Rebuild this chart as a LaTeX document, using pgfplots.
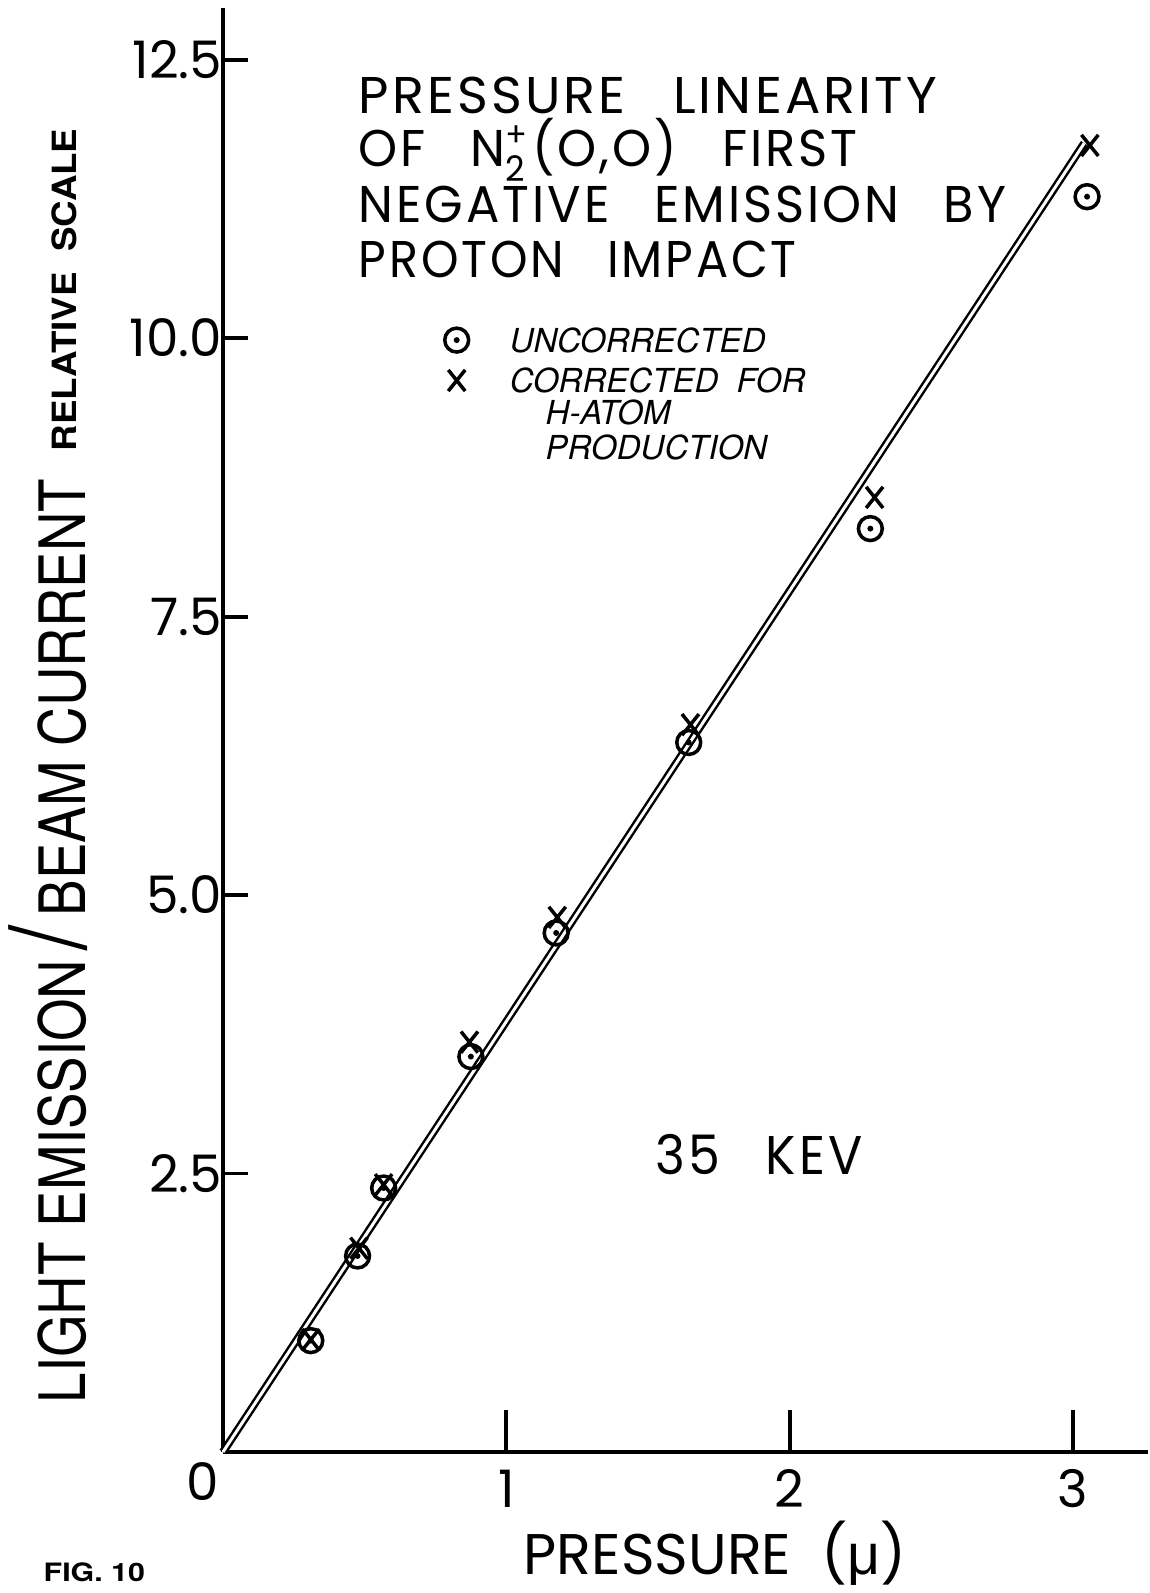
\documentclass[border=0pt]{standalone}
\usepackage{pgfplots}
\pgfplotsset{compat=1.18}
\usepackage{fontspec}
\usepackage{graphicx}
\setmainfont{Poppins}
\newfontfamily\titlefont[LetterSpace=6]{Poppins}
\newfontfamily\heros{TeX Gyre Heros}
\newfontfamily\greek{Liberation Sans}

% open circle with a centre dot
\pgfdeclareplotmark{odot}{%
  \pgfpathcircle{\pgfpointorigin}{\pgfplotmarksize}\pgfusepathqstroke
  \pgfpathcircle{\pgfpointorigin}{0.25\pgfplotmarksize}\pgfusepathqfill}

\newcommand{\fs}[1]{\fontsize{#1}{#1}\selectfont}
\newcommand{\gap}{\hspace{0.9em}}

\begin{document}
\begin{tikzpicture}
% page frame in drawing units (1 unit = 0.2845pt)
\begin{scope}[x=0.2845pt,y=0.2845pt]
  \path[use as bounding box] (0,0) rectangle (1148,1593);
\end{scope}

\begin{axis}[
  at={(63.44pt,40.11pt)}, anchor=origin,
  x=80.6pt, y=31.69pt,
  scale only axis,
  clip=false,
  xmin=0, xmax=3.265, ymin=0, ymax=12.96,
  axis lines=left,
  axis line style={-, line width=1.1pt},
  tick align=inside,
  major tick length=7.1pt,
  tick style={line width=1.1pt, black},
  ytick={2.5,5,7.5,10,12.5},
  yticklabels={2.5,5.0,7.5,10.0,12.5},
  yticklabel style={xshift=3.3pt},
  xtick=\empty,
  extra x ticks={1,2,3},
  extra x tick labels={1,2,3},
  extra x tick style={major tick length=11.9pt, xticklabel style={yshift=-1.5pt}},
  ticklabel style={font=\fs{14.7pt}},
  legend style={at={(0.239,0.779)}, anchor=north west, draw=none, fill=none,
    inner sep=0pt, font=\heros\itshape\fs{9.4pt},
    nodes={inner sep=0pt, text height=6.8pt, text depth=0pt},
    row sep=4.7pt,
    /tikz/every odd column/.append style={column sep=11.7pt}},
  legend cell align=left,
]
% least-squares line through the origin
\addplot[forget plot, line width=0.7pt, double=white, double distance=0.85pt, mark=none]
  coordinates {(0,0) (3.04,11.75)};
% uncorrected
\addplot[only marks, mark=odot, mark size=3.4pt, mark options={line width=1pt}]
  coordinates {(0.31,1.00) (0.475,1.76) (0.567,2.37) (0.875,3.55)
               (1.176,4.66) (1.644,6.37) (2.285,8.29) (3.05,11.27)};
% corrected for H-atom production
\addplot[only marks, mark=x, mark size=3.4pt, mark options={line width=1pt, yscale=1.25}]
  coordinates {(0.31,1.01) (0.48,1.83) (0.567,2.40) (0.87,3.68)
               (1.18,4.80) (1.65,6.53) (2.30,8.57) (3.06,11.73)};
\legend{UNCORRECTED, CORRECTED\ \ FOR}
\end{axis}

\begin{scope}[x=0.2845pt,y=0.2845pt]
  % title block
  \node[anchor=base west, inner sep=0pt, font=\titlefont\fs{14.7pt}] at (358,1479)
    {\scalebox{1.016}[1]{PRESSURE\gap LINEARITY}};
  \node[anchor=base west, inner sep=0pt, font=\titlefont\fs{14.7pt}] at (358,1426)
    {\scalebox{0.962}[1]{OF\gap N\makebox[0pt][l]{\smash{\raisebox{0.4em}{\fs{9.5pt}+}}}\smash{\raisebox{-0.28em}{\fs{10pt}2}}\hspace{0.15em}(O,O)\gap FIRST}};
  \node[anchor=base west, inner sep=0pt, font=\titlefont\fs{14.7pt}] at (358,1370)
    {\scalebox{0.959}[1]{NEGATIVE\gap EMISSION\gap BY}};
  \node[anchor=base west, inner sep=0pt, font=\titlefont\fs{14.7pt}] at (358,1315)
    {\scalebox{0.924}[1]{PROTON\gap IMPACT}};
  % legend continuation
  \node[anchor=base west, inner sep=0pt, font=\heros\itshape\fs{9.4pt}] at (545,1168) {H-ATOM};
  \node[anchor=base west, inner sep=0pt, font=\heros\itshape\fs{9.4pt}] at (545,1133) {PRODUCTION};
  % energy
  \node[anchor=base west, inner sep=0pt, font=\titlefont\fs{15.5pt}] at (655,418)
    {\scalebox{0.93}[1]{35\gap KEV}};
  % zero at the origin
  \node[inner sep=0pt, font=\fs{14.7pt}] at (203,111) {0};
  % axis titles
  \node[anchor=base west, inner sep=0pt, font=\fs{16.3pt}] at (523,18)
    {PRESSURE\ \ ({\greek μ})};
  \node[rotate=90, anchor=base, inner sep=0pt, font=\heros\fs{18.2pt}] at (85,652)
    {\scalebox{0.855}[1]{LIGHT EMISSION\,{\fs{30pt}/}\,BEAM CURRENT}};
  \node[rotate=90, anchor=base, inner sep=0pt, font=\heros\bfseries\fs{9.5pt}] at (76,1303)
    {\scalebox{1.1}[1]{RELATIVE\ \ SCALE}};
  \node[anchor=base west, inner sep=0pt, font=\heros\bfseries\fs{7.2pt}] at (43,11)
    {\scalebox{1.2}[1]{FIG.\ 10}};
\end{scope}
\end{tikzpicture}
\end{document}
